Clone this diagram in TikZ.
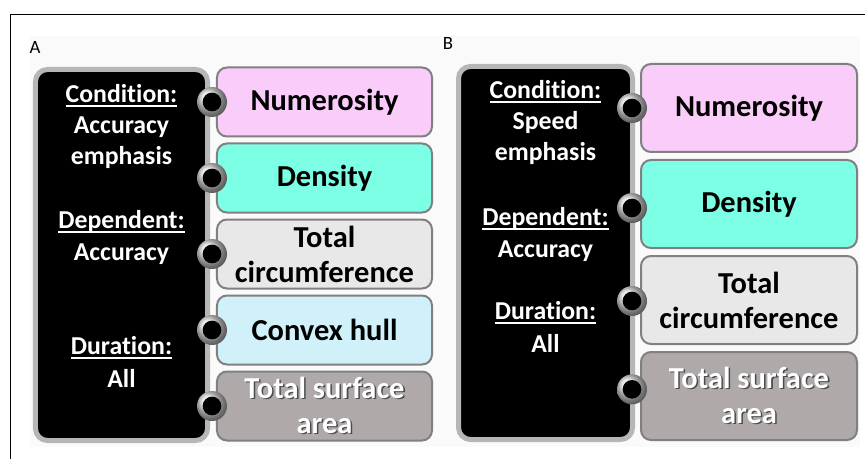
\documentclass[tikz,border=0pt]{standalone}
\usepackage{fontspec}
\setmainfont[Ligatures=NoCommon]{Carlito}
\usetikzlibrary{positioning}
\definecolor{pinkbox}{RGB}{249,204,249}
\definecolor{aquabox}{RGB}{125,255,229}
\definecolor{lightbox}{RGB}{232,232,232}
\definecolor{cyanbox}{RGB}{208,240,250}
\definecolor{darkbox}{RGB}{175,169,169}
\definecolor{boxline}{RGB}{128,128,128}
\definecolor{panelline}{RGB}{182,182,182}
\definecolor{backpanel}{RGB}{250,250,250}
\newcommand{\headul}[1]{\setbox0=\hbox{#1}\rlap{\rule[-3.4pt]{\wd0}{1.5pt}}\box0}
\newcommand{\shtext}[1]{\leavevmode\rlap{\hspace{1.3pt}\raisebox{-1.3pt}{\textcolor{black!70}{#1}}}\textcolor{white}{#1}}

\begin{document}
\begin{tikzpicture}[x=0.03cm, y=-0.03cm,
  panel/.style={fill=black, draw=panelline, line width=0.15cm, rounded corners=0.36cm},
  paneltext/.style={text=white, anchor=base, inner sep=0pt, font=\bfseries\fontsize{22}{26}\selectfont},
  featbox/.style={draw=boxline, line width=0.06cm, rounded corners=0.3cm, align=center,
    inner sep=0pt, font=\bfseries\fontsize{26}{30}\selectfont},
  knob/.style={circle, minimum size=0.9cm, inner sep=0pt, shading=ball, ball color=gray!28,
    path picture={\fill[black] (path picture bounding box.center) circle (0.28cm);}},
  panellabel/.style={font=\fontsize{16}{18}\selectfont}]
\useasboundingbox (0,0) rectangle (865,459);

%---------------------------------------
% Frame
%---------------------------------------
\fill[backpanel] (30,36) rectangle (860,447);
\draw[line width=0.6pt] (10,459) -- (10,14) -- (865,14);

%====================================================
% PANEL A: accuracy emphasis
%====================================================
\node[panellabel] (labA) at (35,47) {A};

\node[panel, minimum width=5.16cm, minimum height=11.13cm] (condA) at (121.5,255) {};
\foreach \y/\txt [count=\i] in {103/{\headul{Condition:}}, 134/Accuracy, 165/emphasis,
    229/{\headul{Dependent:}}, 261/Accuracy, 355/{\headul{Duration:}}, 387/All}
  \node[paneltext] (txtA\i) at (121.5,\y) {\txt};

% Feature boxes
\node[featbox, fill=pinkbox, minimum width=6.45cm, minimum height=2.07cm] (numA) at (324.5,102) {Numerosity};
\node[featbox, fill=aquabox, minimum width=6.45cm, minimum height=2.07cm, below=0.15cm of numA] (denA) {Density};
\node[featbox, fill=lightbox, minimum width=6.45cm, minimum height=2.07cm, below=0.15cm of denA] (circA) {Total\\circumference};
\node[featbox, fill=cyanbox, minimum width=6.45cm, minimum height=2.07cm, below=0.15cm of circA] (hullA) {Convex hull};
\node[featbox, fill=darkbox, minimum width=6.45cm, minimum height=2.07cm, below=0.15cm of hullA] (surfA) {\shtext{Total surface}\\\shtext{area}};

% Knobs
\foreach \b [count=\i] in {numA,denA,circA,hullA,surfA}
  \node[knob, xshift=0.06cm] (knobA\i) at (condA.east |- \b.west) {};

%====================================================
% PANEL B: speed emphasis
%====================================================
\node[panellabel] (labB) at (448,43) {B};

\node[panel, minimum width=5.22cm, minimum height=11.19cm] (condB) at (545.5,253) {};
\foreach \y/\txt [count=\i] in {99/{\headul{Condition:}}, 130/Speed, 161/emphasis,
    226/{\headul{Dependent:}}, 258/Accuracy, 320/{\headul{Duration:}}, 353/All}
  \node[paneltext] (txtB\i) at (545.5,\y) {\txt};

% Feature boxes
\node[featbox, fill=pinkbox, minimum width=6.48cm, minimum height=2.64cm] (numB) at (749,108) {Numerosity};
\node[featbox, fill=aquabox, minimum width=6.48cm, minimum height=2.64cm, below=0.18cm of numB] (denB) {Density};
\node[featbox, fill=lightbox, minimum width=6.48cm, minimum height=2.64cm, below=0.18cm of denB] (circB) {Total\\circumference};
\node[featbox, fill=darkbox, minimum width=6.48cm, minimum height=2.64cm, below=0.18cm of circB] (surfB) {\shtext{Total surface}\\\shtext{area}};

% Knobs
\foreach \b/\dy [count=\i] in {numB/0, denB/-0.12, circB/-0.03, surfB/0.2}
  \node[knob, xshift=-0.09cm, yshift=\dy cm] (knobB\i) at (condB.east |- \b.west) {};

\end{tikzpicture}
\end{document}
